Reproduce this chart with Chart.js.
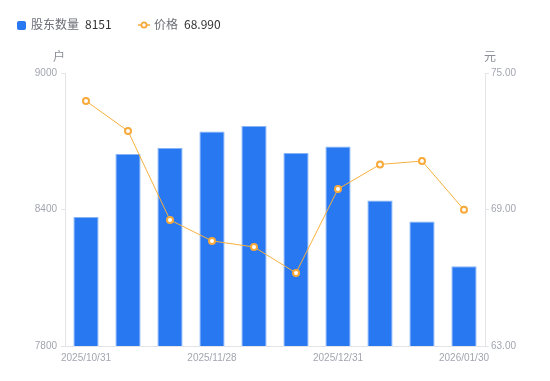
<!DOCTYPE html>
<html><head><meta charset="utf-8">
<script src="https://cdn.jsdelivr.net/npm/chart.js@4/dist/chart.umd.min.js"></script>
<style>
html,body{margin:0;padding:0;background:#fff;}
#wrap{position:relative;width:550px;height:381px;font-family:"Noto Sans CJK SC","Noto Sans",sans-serif;}
#legend{position:absolute;left:17px;top:15px;font-size:12px;line-height:18px;white-space:nowrap;}
.item{position:absolute;top:0;}
.sq{display:inline-block;width:9px;height:9px;background:#2878f2;border-radius:2px;vertical-align:-1px;margin-right:5px;}
.nm{color:#6b6e76;}
.vl{color:#333;margin-left:6px;}
.ttl{position:absolute;font-size:12px;color:#8a8d96;top:47px;}
</style></head>
<body>
<div id="wrap">
<canvas id="c" width="550" height="381"></canvas>
<div id="legend">
  <span class="item" style="left:0"><span class="sq"></span><span class="nm">股东数量</span><span class="vl">8151</span></span>
  <span class="item" style="left:121px"><svg width="12" height="10" style="vertical-align:-1px;margin-right:4px"><line x1="0" y1="5" x2="12" y2="5" stroke="#f7a93a" stroke-width="1.5"/><circle cx="6" cy="5" r="2.6" fill="#fff" stroke="#f7a93a" stroke-width="1.8"/></svg><span class="nm">价格</span><span class="vl">68.990</span></span>
</div>
<div class="ttl" style="left:53px">户</div>
<div class="ttl" style="left:484px">元</div>
</div>
<script>
const categories = ["2025/10/31","2025/11/10","2025/11/20","2025/11/28","2025/12/10","2025/12/20","2025/12/31","2026/01/09","2026/01/20","2026/01/30"];
const holders = [8367, 8644, 8670, 8743, 8767, 8648, 8677, 8440, 8347, 8151];
const prices = [73.77, 72.45, 68.54, 67.62, 67.35, 66.21, 69.90, 70.98, 71.13, 68.99];
const leftTicks = [7800, 8400, 9000];
const rightTicks = [63, 69, 75];

const tickFont = {family:"'Liberation Sans', Arial, sans-serif", size:10};
const tickColor = '#a3a6b0';
const axisColor = '#e3e4e8';

new Chart(document.getElementById('c'), {
  data: {
    labels: categories,
    datasets: [
      {type:'line', label:'价格', data: prices, yAxisID:'y1', borderColor:'#f7b03e', borderWidth:1,
       pointRadius:3, pointBorderWidth:2, pointBackgroundColor:'#fff', pointBorderColor:'#f7a93a',
       tension:0, order:0},
      {type:'bar', label:'股东数量', data: holders, yAxisID:'y', backgroundColor:'#2878f2',
       borderColor:'#86b3f7', borderWidth:{top:1,left:1,right:1,bottom:0}, borderSkipped:'bottom',
       barPercentage:0.6, categoryPercentage:1.0, order:1}
    ]
  },
  options: {
    responsive:false, animation:false,
    layout:{padding:{top:73,left:0,right:1,bottom:0}},
    plugins:{legend:{display:false}, tooltip:{enabled:false}},
    scales:{
      x:{
        grid:{display:true, drawOnChartArea:false, drawTicks:false, color:axisColor},
        border:{color:axisColor},
        ticks:{autoSkip:false, maxRotation:0, padding:6, color:tickColor, font:tickFont,
          callback:function(v,i){ return i%3===0 ? categories[i] : ''; }},
        afterFit:function(s){ s.height = 35; }
      },
      y:{
        position:'left', min:7800, max:9000,
        afterBuildTicks:function(s){ s.ticks = leftTicks.map(v=>({value:v})); },
        grid:{drawOnChartArea:false, tickLength:4, color:axisColor},
        border:{color:axisColor},
        ticks:{padding:4, color:tickColor, font:tickFont, callback:v=>String(v)},
        afterFit:function(s){ s.width = 65; }
      },
      y1:{
        position:'right', min:63, max:75,
        afterBuildTicks:function(s){ s.ticks = rightTicks.map(v=>({value:v})); },
        grid:{drawOnChartArea:false, tickLength:4, color:axisColor},
        border:{color:axisColor},
        ticks:{padding:2, color:tickColor, font:tickFont, callback:v=>Number(v).toFixed(2)},
        afterFit:function(s){ s.width = 64; }
      }
    }
  }
});
</script>
</body></html>
